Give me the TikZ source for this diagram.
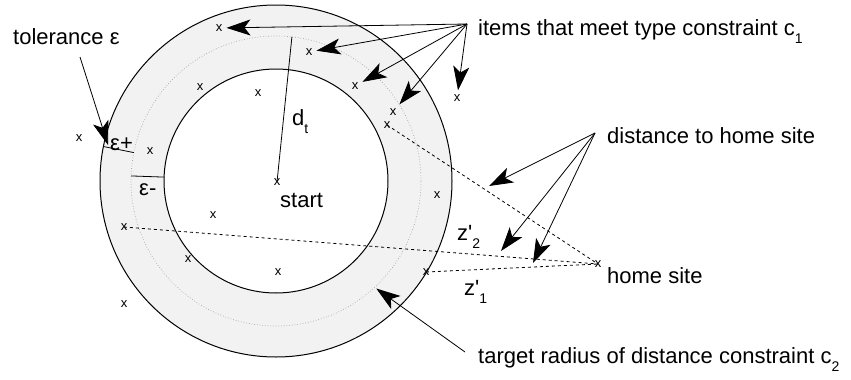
\documentclass[tikz,border=0pt]{standalone}
\usepackage{fontspec}
\setmainfont{Liberation Sans}
\usetikzlibrary{arrows.meta,calc}
\newcommand{\lowsub}[1]{\raisebox{-8pt}{\fontsize{14}{14}\selectfont #1}}

\begin{document}
\begin{tikzpicture}[x=1pt,y=-1pt,>={Stealth[length=24pt,width=16pt,inset=6pt]},
    every node/.style={font=\fontsize{22}{26}\selectfont,inner sep=0pt},
    item/.style={font=\fontsize{13}{13}\selectfont,inner sep=4pt},
    pointer/.style={->,line width=0.8pt},
    homeline/.style={dash pattern=on 3pt off 3pt,line width=0.8pt}]
    \useasboundingbox (0,0) rectangle (851,380);
    \coordinate (ctr) at (276,181);
    % ring of the distance constraint
    \fill[gray!10,even odd rule] (ctr) circle[radius=176pt] (ctr) circle[radius=112pt];
    \draw[line width=1pt] (ctr) circle[radius=176pt];
    \draw[line width=1pt] (ctr) circle[radius=112pt];
    \draw[gray!70,dotted,line width=0.7pt] (ctr) circle[radius=145pt];
    \draw[line width=0.8pt] ($(ctr)+(168.7:176pt)$) -- ($(ctr)+(168.7:145pt)$);
    \draw[line width=0.8pt] ($(ctr)+(178:145pt)$) -- ($(ctr)+(178:112pt)$);
    % items
    \node[item] (t1) at (219,28) {x};
    \node[item] (t2) at (309,52) {x};
    \node[item] (t3) at (355,86) {x};
    \node[item] (t4) at (393,112) {x};
    \node[item] (t5) at (457,98) {x};
    \node[item] (m1) at (387,125) {x};
    \node[item] (m2) at (124,227) {x};
    \node[item] (m3) at (426,272) {x};
    \foreach \n/\px/\py in {a/200/87,b/258/93,c/79/138,d/150/151,e/437/195,
        f/213/215,g/188/259,h/278/272,k/124/304}
      \node[item] (\n) at (\px,\py) {x};
    \node[item] (st) at (277,182) {x};
    \node[item] (home) at (598,264) {x};
    % labels
    \node[anchor=base west] (tol) at (13,44) {tolerance ε};
    \node[anchor=base west] (epp) at (110,150) {ε+};
    \node[anchor=base west] (epm) at (139,195) {ε-};
    \node[anchor=base west] (dt) at (292,125) {d\lowsub{t}};
    \node[anchor=base west] (stl) at (280,207) {start};
    \node[anchor=base west] (itm) at (478,35) {items that meet type constraint c\lowsub{1}};
    \node[anchor=base west] (dst) at (607,143) {distance to home site};
    \node[anchor=base west] (hml) at (607,283) {home site};
    \node[anchor=base west] (z2) at (457,240) {z\textquotesingle\lowsub{2}};
    \node[anchor=base west] (z1) at (464,295) {z\textquotesingle\lowsub{1}};
    \node[anchor=base west] (tgt) at (478,363) {target radius of distance constraint c\lowsub{2}};
    % radius d_t
    \draw[line width=0.8pt] (st.center) -- ($(ctr)+(83.7:145pt)$);
    % distances to home site
    \draw[homeline] (m1.center) -- (home.center);
    \draw[homeline] (m2.center) -- (home.center);
    \draw[homeline] (m3.center) -- (home.center);
    % pointers
    \coordinate (itsrc) at (467,24);
    \foreach \t in {t1,t2,t3,t4,t5}
      \draw[pointer] (itsrc) -- (\t);
    \coordinate (tolsrc) at (80,57);
    \coordinate (tolend) at (108,145);
    \draw[pointer] (tolsrc) -- (tolend);
    \coordinate (dssrc) at (595,133);
    \coordinate (ds1) at (489,186);
    \coordinate (ds2) at (501,251);
    \coordinate (ds3) at (533,263);
    \foreach \d in {ds1,ds2,ds3}
      \draw[pointer] (dssrc) -- (\d);
    \coordinate (tgsrc) at (465,352);
    \coordinate (tgend) at ($(ctr)+(-47:147pt)$);
    \draw[pointer] (tgsrc) -- (tgend);
\end{tikzpicture}
\end{document}
